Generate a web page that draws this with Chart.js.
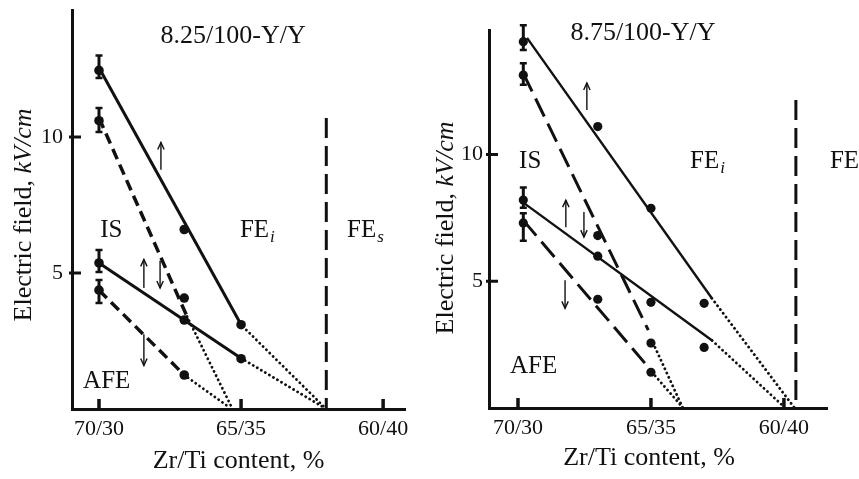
<!DOCTYPE html>
<html><head><meta charset="utf-8">
<script src="https://cdn.jsdelivr.net/npm/chart.js@4"></script>
<style>
html,body{margin:0;padding:0;background:#fff;}
#wrap{position:relative;width:859px;height:479px;overflow:hidden;background:#fff;}
canvas{position:absolute;top:0;}
</style></head><body>
<div id="wrap">
<canvas id="cA" width="430" height="479" style="left:0px"></canvas>
<canvas id="cB" width="429" height="479" style="left:430px"></canvas>
</div>
<script>
// ---------- shared axis ticks ----------
const zrTickValues = [70, 65, 60];
const zrTickLabels = ['70/30', '65/35', '60/40'];
const fieldTickValues = [5, 10];
const xAxisTitle = 'Zr/Ti content, %';
const yAxisTitleMain = 'Electric field, ';
const yAxisTitleUnit = 'kV/cm';

// ---------- Panel A : 8.25/100-Y/Y ----------
const aTitle = '8.25/100-Y/Y';
const aZr = [70, 67, 65];
const aUpperSolid = [12.45, 6.6, 3.1];
const aLowerSolid = [5.37, 3.27, 1.85];
const aZrDashed = [70, 67];
const aUpperDashed = [10.6, 4.08];
const aLowerDashed = [4.37, 1.25];
// error bars at the first composition: [zr, low, high]
const aErrors = [[70, 12.17, 13.0], [70, 10.18, 11.07], [70, 5.04, 5.85], [70, 3.9, 4.74]];
// fitted lines [zr, field]
const aUpperSolidFit = [[70, 12.55], [65.05, 3.2]];
const aLowerSolidFit = [[70, 5.37], [65, 1.87]];
const aUpperDashedFit = [[70, 10.7], [66.9, 3.4]];
const aLowerDashedFit = [[70, 4.37], [67, 1.25]];
// dotted extrapolations
const aUpperSolidExt = [[65.05, 3.15], [62, 0]];
const aLowerSolidExt = [[65, 1.87], [62, 0]];
const aUpperDashedExt = [[66.9, 3.4], [65.3, 0]];
const aLowerDashedExt = [[67, 1.25], [65.4, 0.05]];
// FEi / FEs phase boundary
const aBoundary = [[62, 10.7], [62, 0]];
// arrows: [zr, from, to]
const aArrows = [[67.82, 8.8, 9.8], [68.42, 4.45, 5.5], [67.85, 5.45, 4.45], [68.42, 2.75, 1.6]];
// region labels: [text, subscript, zr (left edge), field]
const aLabels = [['IS', '', 69.96, 6.55], ['FE', 'i', 65.04, 6.55], ['FE', 's', 61.27, 6.55], ['AFE', '', 70.56, 1.03]];
const aTitleAt = [65.28, 13.71];

// ---------- Panel B : 8.75/100-Y/Y ----------
const bTitle = '8.75/100-Y/Y';
const bZr = [69.8, 67, 65, 63];
const bUpperSolid = [14.45, 11.1, 7.88, 4.13];
const bLowerSolid = [8.2, 5.99, 4.17, 2.39];
const bZrDashed = [69.8, 67, 65];
const bUpperDashed = [13.13, 6.8, 2.56];
const bLowerDashed = [7.3, 4.29, 1.41];
const bErrors = [[69.8, 14.12, 15.1], [69.8, 12.75, 13.6], [69.8, 7.9, 8.7], [69.8, 6.6, 7.68]];
const bUpperSolidFit = [[69.66, 14.6], [62.71, 4.33]];
const bLowerSolidFit = [[69.8, 8.1], [62.7, 2.66]];
const bUpperDashedFit = [[69.8, 13.2], [65.1, 3.07]];
const bLowerDashedFit = [[69.8, 7.4], [65.23, 1.77]];
const bUpperSolidExt = [[62.71, 4.33], [59.6, 0]];
const bLowerSolidExt = [[62.7, 2.66], [60.0, 0.05]];
const bUpperDashedExt = [[64.92, 2.56], [63.8, 0]];
const bLowerDashedExt = [[64.96, 1.41], [63.83, 0.05]];
const bBoundary = [[59.55, 12.15], [59.55, 0]];
const bArrows = [[67.41, 11.75, 12.82], [68.2, 7.13, 8.2], [67.52, 7.73, 6.74], [68.23, 5.04, 3.93]];
const bLabels = [['IS', '', 69.96, 9.72], ['FE', 'i', 63.53, 9.72], ['FE', 's', 58.27, 9.72], ['AFE', '', 70.3, 1.65]];
const bTitleAt = [65.3, 14.79];

// ---------- drawing ----------
const INK = '#111111';
const SERIF = "'Liberation Serif', 'Times New Roman', serif";

const panelA = {
  title: aTitle, titleAt: aTitleAt,
  pointSets: [[aZr, aUpperSolid], [aZr, aLowerSolid], [aZrDashed, aUpperDashed], [aZrDashed, aLowerDashed]],
  solid: [aUpperSolidFit, aLowerSolidFit],
  dashed: [aUpperDashedFit, aLowerDashedFit],
  dotted: [aUpperSolidExt, aLowerSolidExt, aUpperDashedExt, aLowerDashedExt],
  boundary: aBoundary, errors: aErrors, arrows: aArrows, labels: aLabels
};
const panelB = {
  title: bTitle, titleAt: bTitleAt,
  pointSets: [[bZr, bUpperSolid], [bZr, bLowerSolid], [bZrDashed, bUpperDashed], [bZrDashed, bLowerDashed]],
  solid: [bUpperSolidFit, bLowerSolidFit],
  dashed: [bUpperDashedFit, bLowerDashedFit],
  dotted: [bUpperSolidExt, bLowerSolidExt, bUpperDashedExt, bLowerDashedExt],
  boundary: bBoundary, errors: bErrors, arrows: bArrows, labels: bLabels
};

const geomA = { xMin: 59.23, xMax: 70.95, yMax: 14.67, yAxisW: 72, xAxisH: 70, padTop: 10, padRight: 25,
  yTickPad: 9, xTickPad: 7, xTitleDx: 0, xTitleY: 461, yTitleX: 24, yTitleY: 215,
  solidW: 3, dashedW: 3.5, dash: [11, 6], pointR: 4.8 };
const geomB = { xMin: 58.38, xMax: 71.09, yMax: 14.91, yAxisW: 59, xAxisH: 71, padTop: 30, padRight: 32,
  yTickPad: 6, xTickPad: 7, xTitleDx: -9, xTitleY: 458, yTitleX: 16, yTitleY: 228,
  solidW: 2.4, dashedW: 3, dash: [20, 8], pointR: 4.6 };

function xy(xs, ys) { return ys.map((y, i) => ({ x: xs[i], y: y })); }
function pts(arr) { return arr.map(p => ({ x: p[0], y: p[1] })); }

function makeChart(id, P, G) {
  const ds = [];
  const addLine = (arr, w, dash, cap) => ds.push({
    data: pts(arr), showLine: true, pointRadius: 0, pointHoverRadius: 0,
    borderColor: INK, borderWidth: w, borderDash: dash, borderCapStyle: cap, fill: false
  });
  addLine(P.boundary, 3, [20, 8], 'butt');
  P.solid.forEach(s => addLine(s, G.solidW, [], 'butt'));
  P.dashed.forEach(s => addLine(s, G.dashedW, G.dash, 'butt'));
  P.dotted.forEach(s => addLine(s, 2.8, [0.1, 4.6], 'round'));
  P.pointSets.forEach(([xs, ys]) => ds.push({
    data: xy(xs, ys), showLine: false, pointRadius: G.pointR, pointHoverRadius: G.pointR,
    backgroundColor: INK, borderColor: INK, borderWidth: 0
  }));

  const overlay = {
    id: 'overlay' + id,
    afterDraw(chart) {
      const ctx = chart.ctx, sx = chart.scales.x, sy = chart.scales.y, ca = chart.chartArea;
      ctx.save();
      ctx.strokeStyle = INK; ctx.fillStyle = INK;
      // inward tick marks
      ctx.lineWidth = 3.5;
      zrTickValues.forEach(v => {
        const px = sx.getPixelForValue(v);
        ctx.beginPath(); ctx.moveTo(px, ca.bottom); ctx.lineTo(px, ca.bottom - 10); ctx.stroke();
      });
      ctx.lineWidth = 3;
      fieldTickValues.forEach(v => {
        const py = sy.getPixelForValue(v);
        ctx.beginPath(); ctx.moveTo(ca.left - 3, py); ctx.lineTo(ca.left + 9, py); ctx.stroke();
      });
      // error bars
      P.errors.forEach(([z, lo, hi]) => {
        const px = sx.getPixelForValue(z), y1 = sy.getPixelForValue(lo), y2 = sy.getPixelForValue(hi);
        ctx.lineWidth = 3;
        ctx.beginPath(); ctx.moveTo(px, y1); ctx.lineTo(px, y2); ctx.stroke();
        ctx.lineWidth = 2.5;
        ctx.beginPath(); ctx.moveTo(px - 3.5, y1); ctx.lineTo(px + 3.5, y1);
        ctx.moveTo(px - 3.5, y2); ctx.lineTo(px + 3.5, y2); ctx.stroke();
      });
      // arrows
      ctx.lineWidth = 1.4;
      P.arrows.forEach(([z, f, t]) => {
        const px = sx.getPixelForValue(z), y1 = sy.getPixelForValue(f), y2 = sy.getPixelForValue(t);
        const d = Math.sign(y2 - y1);
        ctx.beginPath(); ctx.moveTo(px, y1); ctx.lineTo(px, y2); ctx.stroke();
        ctx.beginPath(); ctx.moveTo(px - 3.2, y2 - d * 7); ctx.lineTo(px, y2); ctx.lineTo(px + 3.2, y2 - d * 7); ctx.stroke();
      });
      // region labels
      ctx.textBaseline = 'middle'; ctx.textAlign = 'left';
      P.labels.forEach(([txt, sub, z, e]) => {
        const px = sx.getPixelForValue(z), py = sy.getPixelForValue(e);
        ctx.font = '25px ' + SERIF;
        ctx.fillText(txt, px, py);
        if (sub) {
          const w = ctx.measureText(txt).width;
          ctx.font = 'italic 17px ' + SERIF;
          ctx.fillText(sub, px + w + 1, py + 7);
        }
      });
      // panel title
      ctx.font = '26px ' + SERIF; ctx.textAlign = 'center';
      ctx.fillText(P.title, sx.getPixelForValue(P.titleAt[0]), sy.getPixelForValue(P.titleAt[1]));
      // x axis title
      ctx.fillText(xAxisTitle, (ca.left + ca.right) / 2 + G.xTitleDx, G.xTitleY);
      // y axis title (mixed upright / italic)
      ctx.translate(G.yTitleX, G.yTitleY); ctx.rotate(-Math.PI / 2);
      ctx.font = '26px ' + SERIF; const w1 = ctx.measureText(yAxisTitleMain).width;
      ctx.font = 'italic 26px ' + SERIF; const w2 = ctx.measureText(yAxisTitleUnit).width;
      ctx.textAlign = 'left';
      ctx.font = '26px ' + SERIF; ctx.fillText(yAxisTitleMain, -(w1 + w2) / 2, 0);
      ctx.font = 'italic 26px ' + SERIF; ctx.fillText(yAxisTitleUnit, -(w1 + w2) / 2 + w1, 0);
      ctx.restore();
    }
  };

  return new Chart(document.getElementById(id), {
    type: 'scatter',
    data: { datasets: ds },
    options: {
      responsive: false, animation: false, devicePixelRatio: 1,
      layout: { padding: { top: G.padTop, right: G.padRight, left: 0, bottom: 0 } },
      plugins: { legend: { display: false }, tooltip: { enabled: false } },
      scales: {
        x: {
          type: 'linear', reverse: true, min: G.xMin, max: G.xMax,
          afterBuildTicks: s => { s.ticks = zrTickValues.map(v => ({ value: v })); },
          afterFit: s => { s.height = G.xAxisH; s.paddingLeft = 0; s.paddingRight = 0; },
          ticks: { callback: v => zrTickLabels[zrTickValues.indexOf(v)], font: { family: SERIF, size: 22 }, color: INK,
                   padding: G.xTickPad, maxRotation: 0, autoSkip: false },
          grid: { drawOnChartArea: false, drawTicks: false },
          border: { display: true, width: 3, color: INK },
          title: { display: false }
        },
        y: {
          type: 'linear', min: 0, max: G.yMax,
          afterBuildTicks: s => { s.ticks = fieldTickValues.map(v => ({ value: v })); },
          afterFit: s => { s.width = G.yAxisW; s.paddingTop = 0; s.paddingBottom = 0; },
          ticks: { font: { family: SERIF, size: 22 }, color: INK, padding: G.yTickPad },
          grid: { drawOnChartArea: false, drawTicks: false },
          border: { display: true, width: 3, color: INK }
        }
      }
    },
    plugins: [overlay]
  });
}

makeChart('cA', panelA, geomA);
makeChart('cB', panelB, geomB);
</script>
</body></html>
